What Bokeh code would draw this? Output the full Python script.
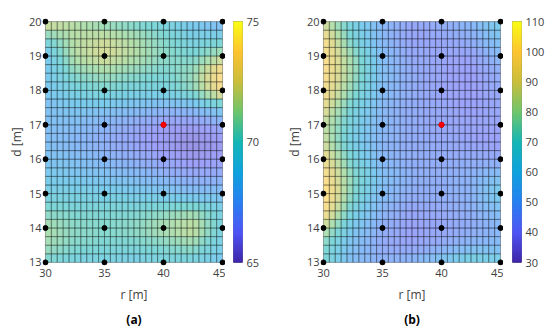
import numpy as np
from bokeh.plotting import figure
from bokeh.models import FixedTicker, ColumnDataSource, LinearColorMapper, Title
from bokeh.layouts import row
from bokeh.embed import file_html
from bokeh.resources import INLINE

# ---- data ----
r_grid = [30, 32.5, 35, 37.5, 40, 42.5, 45]
d_grid = [13, 13.5, 14, 14.5, 15, 15.5, 16, 16.5, 17, 17.5, 18, 18.5, 19, 19.5, 20]

# panel (a): rows follow d_grid (bottom to top), columns follow r_grid
vals_a = [
    [70.0, 69.3, 69.3, 69.0, 69.5, 69.3, 68.5],
    [71.0, 70.3, 70.0, 70.0, 70.3, 70.8, 69.0],
    [71.3, 70.5, 70.3, 70.5, 71.3, 72.0, 69.5],
    [70.3, 70.0, 70.0, 70.0, 70.3, 70.8, 69.3],
    [69.3, 69.2, 69.0, 68.8, 68.5, 68.0, 68.0],
    [68.7, 68.5, 68.2, 67.8, 67.3, 66.8, 67.0],
    [68.3, 68.0, 67.5, 67.0, 66.5, 66.0, 66.3],
    [68.0, 67.5, 67.0, 66.5, 66.0, 65.6, 66.0],
    [68.0, 67.8, 67.3, 66.8, 66.3, 66.2, 66.8],
    [68.0, 68.5, 68.3, 68.0, 67.5, 67.8, 69.0],
    [68.5, 69.5, 70.0, 69.5, 69.5, 70.5, 73.5],
    [68.5, 70.5, 71.0, 70.5, 70.0, 70.8, 74.0],
    [68.5, 71.5, 72.3, 71.5, 70.5, 70.0, 71.5],
    [70.0, 71.5, 72.0, 71.3, 70.3, 69.3, 69.5],
    [72.5, 71.5, 70.5, 70.0, 69.5, 68.5, 67.5],
]

# panel (b)
vals_b = [
    [70, 52, 48, 50, 58, 68, 64],
    [72, 54, 44, 42, 45, 50, 52],
    [85, 58, 46, 41, 43, 45, 49],
    [100, 66, 49, 43, 44, 47, 54],
    [105, 72, 52, 46, 46, 48, 62],
    [100, 74, 54, 47, 46, 48, 54],
    [95, 68, 50, 46, 45, 45, 45],
    [86, 62, 49, 45, 44, 42, 40],
    [85, 64, 50, 45, 43, 42, 42],
    [92, 67, 50, 45, 43, 41, 43],
    [98, 74, 52, 45, 42, 40, 44],
    [100, 78, 54, 45, 42, 40, 46],
    [100, 77, 52, 44, 42, 42, 50],
    [98, 68, 50, 42, 43, 46, 56],
    [85, 64, 50, 43, 46, 50, 62],
]

r_nodes = [30, 35, 40, 45]
d_nodes = [13, 14, 15, 16, 17, 18, 19, 20]
best_r = [40]
best_d = [17]

x_ticks = [30, 35, 40, 45]
y_ticks = [13, 14, 15, 16, 17, 18, 19, 20]
cbar_ticks_a = [65, 70, 75]
cbar_ticks_b = [30, 40, 50, 60, 70, 80, 90, 100, 110]
range_a = (65, 75)
range_b = (30, 110)

# ---- styling ----
PARULA_KEYS = [(62, 38, 168), (78, 84, 245), (40, 128, 242), (15, 162, 222),
               (20, 182, 182), (110, 197, 110), (200, 190, 60), (252, 195, 50),
               (249, 251, 20)]


def make_palette(n=256):
    keys = np.array(PARULA_KEYS, float)
    pos = np.linspace(0, 1, len(keys))
    t = np.linspace(0, 1, n)
    cols = np.stack([np.interp(t, pos, keys[:, k]) for k in range(3)], axis=1)
    return ['#%02x%02x%02x' % tuple(int(round(c)) for c in rgb) for rgb in cols]


PALETTE = make_palette()
FONT = "Open Sans"
TXT = "#404040"
H = 331
TOP = 18
BOTTOM = 66
BAR_TOP = 21
BAR_H = 241


def cells(vals):
    v = np.array(vals, float)
    rf = np.arange(30, 45.001, 0.5)
    df = np.arange(13, 20.001, 0.25)
    tmp = np.array([np.interp(rf, r_grid, rw) for rw in v])
    fine = np.array([np.interp(df, d_grid, tmp[:, j]) for j in range(len(rf))]).T
    c = (fine[:-1, :-1] + fine[1:, :-1] + fine[:-1, 1:] + fine[1:, 1:]) / 4.0
    L, B = np.meshgrid(rf[:-1], df[:-1])
    return dict(left=L.ravel(), right=(L + 0.5).ravel(), bottom=B.ravel(),
                top=(B + 0.25).ravel(), v=c.ravel())


def style_axis(ax):
    ax.axis_line_color = None
    ax.major_tick_line_color = None
    ax.minor_tick_line_color = None
    ax.major_tick_out = 0
    ax.major_tick_in = 0
    ax.minor_tick_out = 0
    ax.minor_tick_in = 0
    ax.major_label_text_font = FONT
    ax.major_label_text_font_size = "11px"
    ax.major_label_text_color = TXT
    ax.axis_label_text_font = FONT
    ax.axis_label_text_font_size = "12px"
    ax.axis_label_text_font_style = "normal"
    ax.axis_label_text_color = TXT


def panel(vals, rng, letter):
    p = figure(width=225, height=H,
               x_range=(29.75, 45.25), y_range=(12.91, 20.09),
               output_backend="svg", toolbar_location=None, frame_align=False,
               min_border_left=42, min_border_right=0,
               min_border_top=TOP, min_border_bottom=BOTTOM)
    mapper = LinearColorMapper(palette=PALETTE, low=rng[0], high=rng[1])
    src = ColumnDataSource(cells(vals))
    p.quad(left="left", right="right", bottom="bottom", top="top", source=src,
           fill_color={"field": "v", "transform": mapper}, fill_alpha=0.55,
           line_color="black", line_alpha=0.45, line_width=0.7)
    p.scatter(r_nodes * len(d_nodes), [d for d in d_nodes for _ in r_nodes],
              size=5, color="black")
    p.scatter(best_r, best_d, size=5, color="red")

    p.xaxis.ticker = FixedTicker(ticks=x_ticks)
    p.yaxis.ticker = FixedTicker(ticks=y_ticks)
    p.grid.visible = False
    p.outline_line_color = None
    style_axis(p.xaxis[0])
    style_axis(p.yaxis[0])
    p.xaxis.axis_label = "r [m]"
    p.yaxis.axis_label = "d [m]"
    p.xaxis.major_label_standoff = 3
    p.yaxis.major_label_standoff = 1
    p.xaxis.axis_label_standoff = 6
    p.yaxis.axis_label_standoff = 1
    p.add_layout(Title(text="(" + letter + ")", align="center", text_font=FONT,
                       text_font_size="12px", text_font_style="bold",
                       text_color="black", standoff=6), "below")
    return p


def colorbar(rng, ticks, left, right):
    lo, hi = rng
    n = len(PALETTE)
    step = (hi - lo) / n
    c = figure(width=left + 9 + right, height=H,
               x_range=(0, 1), y_range=(lo, hi), y_axis_location="right",
               output_backend="svg", toolbar_location=None, frame_align=False,
               min_border_left=left, min_border_right=right,
               min_border_top=BAR_TOP, min_border_bottom=H - BAR_TOP - BAR_H)
    c.quad(left=0, right=1, bottom=[lo + i * step for i in range(n)],
           top=[lo + (i + 1) * step for i in range(n)], fill_color=PALETTE,
           line_color=PALETTE, line_width=1)
    c.xaxis.visible = False
    c.yaxis.ticker = FixedTicker(ticks=ticks)
    style_axis(c.yaxis[0])
    c.yaxis.major_label_standoff = 4
    c.grid.visible = False
    c.outline_line_color = "#888888"
    c.outline_line_width = 1
    return c


pa = panel(vals_a, range_a, "a")
ca = colorbar(range_a, cbar_ticks_a, 8, 36)
pb = panel(vals_b, range_b, "b")
cb = colorbar(range_b, cbar_ticks_b, 9, 29)
layout = row(pa, ca, pb, cb)

open("out.html", "w").write(file_html(layout, INLINE))
